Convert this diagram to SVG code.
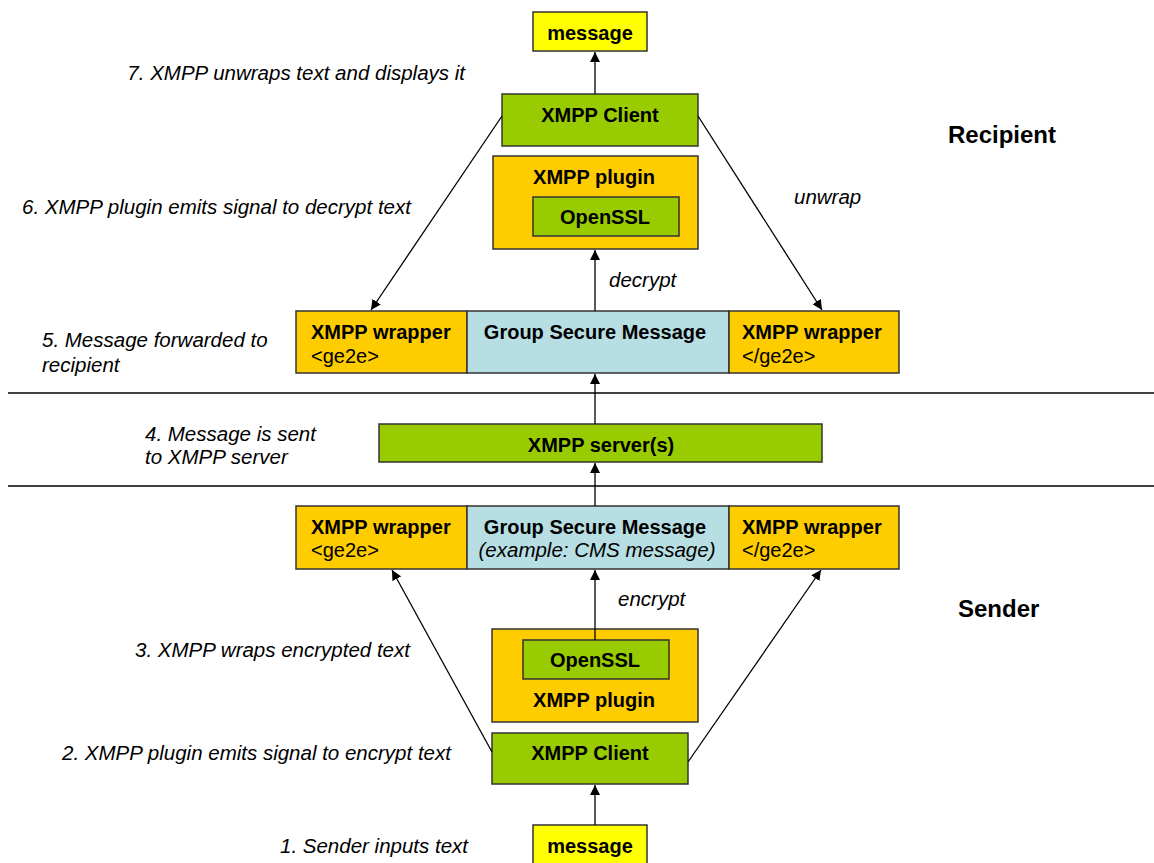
<svg xmlns="http://www.w3.org/2000/svg" width="1154" height="863" viewBox="0 0 1154 863">
<style>
.box{stroke:#333;stroke-width:1.5}
.yel{fill:#FFFF00}
.grn{fill:#99CC00}
.org{fill:#FFCC00}
.blu{fill:#B7DEE3}
.b{font-family:"Liberation Sans",Arial,sans-serif;font-weight:bold;font-size:20px;fill:#000}
.r{font-family:"Liberation Sans",Arial,sans-serif;font-size:20px;fill:#000}
.i{font-family:"Liberation Sans",Arial,sans-serif;font-style:italic;font-size:20.5px;fill:#000}
.h{font-family:"Liberation Sans",Arial,sans-serif;font-weight:bold;font-size:24px;fill:#000}
.c{stroke:#000;stroke-width:1.3;fill:none;marker-end:url(#ah)}
.sep{stroke:#000;stroke-width:1.3}
</style>
<defs>
<marker id="ah" viewBox="0 0 10 10" refX="10" refY="5" markerWidth="10" markerHeight="10" markerUnits="userSpaceOnUse" orient="auto">
<path d="M0,0 L10,5 L0,10 z" fill="#000"/>
</marker>
</defs>
<rect width="1154" height="863" fill="#fff"/>

<g id="separators">
<line class="sep" x1="8" y1="393" x2="1154" y2="393"/>
<line class="sep" x1="8" y1="486" x2="1154" y2="486"/>
</g>

<g id="msg-top"><rect class="box yel" x="533" y="12" width="114" height="39"/><text class="b" x="590" y="40" text-anchor="middle">message</text></g>
<g id="client-top"><rect class="box grn" x="502" y="94" width="196" height="52"/><text class="b" x="600" y="122" text-anchor="middle">XMPP Client</text></g>
<g id="plugin-top"><rect class="box org" x="493" y="156" width="205" height="93"/><text class="b" x="594" y="184" text-anchor="middle">XMPP plugin</text></g>
<g id="openssl-top"><rect class="box grn" x="533" y="197" width="146" height="39"/><text class="b" x="605" y="224" text-anchor="middle">OpenSSL</text></g>

<g id="wrap-l-top"><rect class="box org" x="296" y="311" width="171" height="62"/><text class="b" x="311" y="339">XMPP wrapper</text><text class="r" x="311" y="363">&lt;ge2e&gt;</text></g>
<g id="gsm-top"><rect class="box blu" x="467" y="311" width="262" height="62"/><text class="b" x="595" y="339" text-anchor="middle">Group Secure Message</text></g>
<g id="wrap-r-top"><rect class="box org" x="729" y="311" width="170" height="62"/><text class="b" x="742" y="339">XMPP wrapper</text><text class="r" x="742" y="363">&lt;/ge2e&gt;</text></g>

<g id="server"><rect class="box grn" x="379" y="424" width="443" height="38"/><text class="b" x="601" y="452" text-anchor="middle">XMPP server(s)</text></g>

<g id="wrap-l-bot"><rect class="box org" x="296" y="506" width="171" height="63"/><text class="b" x="311" y="534">XMPP wrapper</text><text class="r" x="311" y="557">&lt;ge2e&gt;</text></g>
<g id="gsm-bot"><rect class="box blu" x="467" y="506" width="262" height="63"/><text class="b" x="595" y="534" text-anchor="middle">Group Secure Message</text><text class="i" x="597" y="557" text-anchor="middle">(example: CMS message)</text></g>
<g id="wrap-r-bot"><rect class="box org" x="729" y="506" width="170" height="63"/><text class="b" x="742" y="534">XMPP wrapper</text><text class="r" x="742" y="557">&lt;/ge2e&gt;</text></g>

<g id="plugin-bot"><rect class="box org" x="492" y="629" width="206" height="93"/><text class="b" x="594" y="707" text-anchor="middle">XMPP plugin</text></g>
<g id="openssl-bot"><rect class="box grn" x="523" y="640" width="146" height="39"/><text class="b" x="595" y="667" text-anchor="middle">OpenSSL</text></g>
<g id="client-bot"><rect class="box grn" x="492" y="733" width="196" height="51"/><text class="b" x="590" y="760" text-anchor="middle">XMPP Client</text></g>
<g id="msg-bot"><rect class="box yel" x="533" y="825" width="114" height="45"/><text class="b" x="590" y="853" text-anchor="middle">message</text></g>

<g id="connectors">
<line class="c" x1="595" y1="94" x2="595" y2="52"/>
<line class="c" x1="502" y1="116" x2="371" y2="310"/>
<line class="c" x1="698" y1="116" x2="822" y2="310"/>
<line class="c" x1="595" y1="311" x2="595" y2="250"/>
<line class="c" x1="595" y1="424" x2="595" y2="374"/>
<line class="c" x1="595" y1="506" x2="595" y2="463"/>
<line class="c" x1="595" y1="640" x2="595" y2="570"/>
<line class="c" x1="492" y1="752" x2="392" y2="570"/>
<line class="c" x1="688" y1="762" x2="821" y2="570"/>
<line class="c" x1="595" y1="825" x2="595" y2="785"/>
</g>

<g id="labels">
<text class="i" x="465" y="80" text-anchor="end">7. XMPP unwraps text and displays it</text>
<text class="i" x="22" y="214">6. XMPP plugin emits signal to decrypt text</text>
<text class="i" x="42" y="347">5. Message forwarded to</text>
<text class="i" x="42" y="372">recipient</text>
<text class="i" x="794" y="204">unwrap</text>
<text class="i" x="609" y="287">decrypt</text>
<text class="h" x="948" y="143">Recipient</text>
<text class="i" x="145" y="441">4. Message is sent</text>
<text class="i" x="145" y="464">to XMPP server</text>
<text class="i" x="618" y="606">encrypt</text>
<text class="h" x="958" y="617">Sender</text>
<text class="i" x="135" y="657">3. XMPP wraps encrypted text</text>
<text class="i" x="62" y="760">2. XMPP plugin emits signal to encrypt text</text>
<text class="i" x="280" y="853">1. Sender inputs text</text>
</g>
</svg>
